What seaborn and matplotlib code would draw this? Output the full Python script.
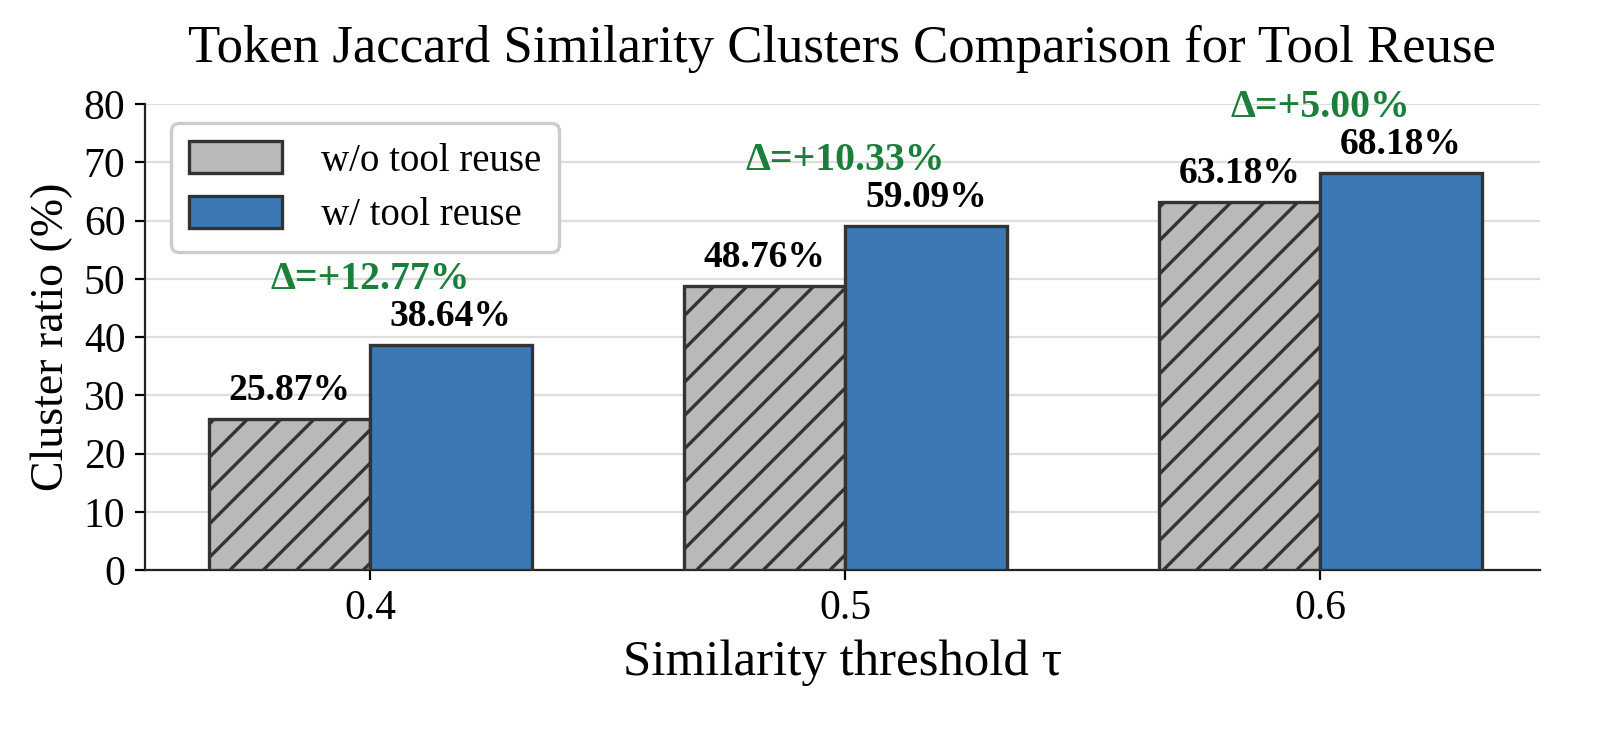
import matplotlib
matplotlib.use("Agg")
import matplotlib.pyplot as plt
import seaborn as sns
import pandas as pd

thresholds = ["0.4", "0.5", "0.6"]
series_names = ["w/o tool reuse", "w/ tool reuse"]
without_reuse = [25.87, 48.76, 63.18]
with_reuse = [38.64, 59.09, 68.18]
deltas = [12.77, 10.33, 5.00]

sns.set_style("ticks")
plt.rcParams['font.family'] = ['Liberation Serif', 'DejaVu Serif']
plt.rcParams['hatch.color'] = '#333333'
plt.rcParams['hatch.linewidth'] = 1.2
for k in ['text.color', 'axes.labelcolor', 'xtick.color', 'ytick.color']:
    plt.rcParams[k] = 'black'
plt.rcParams['axes.edgecolor'] = '#222222'

df = pd.DataFrame({
    "threshold": thresholds * 2,
    "series": [series_names[0]] * 3 + [series_names[1]] * 3,
    "value": without_reuse + with_reuse,
})

fig, ax = plt.subplots(figsize=(8.05, 3.65), dpi=200)
fig.subplots_adjust(left=0.09, right=0.9565, top=0.8575, bottom=0.219)

palette = {series_names[0]: "#b9b9b9", series_names[1]: "#3b78b5"}
sns.barplot(data=df, x="threshold", y="value", hue="series", order=thresholds,
            hue_order=series_names, palette=palette, width=0.68, gap=0,
            edgecolor="#333333", linewidth=1.2, saturation=1, ax=ax, zorder=3)

for bar in ax.containers[0]:
    bar.set_hatch("//")

for c in ax.containers:
    for bar in c:
        h = bar.get_height()
        ax.annotate(f"{h:.2f}%", (bar.get_x() + bar.get_width() / 2, h),
                    xytext=(0, 4), textcoords="offset points", ha="center", va="bottom",
                    fontsize=13.5, fontweight="bold", color="black")

for i, d in enumerate(deltas):
    top = max(without_reuse[i], with_reuse[i])
    ax.annotate(f"Δ=+{d:.2f}%", (i, top), xytext=(0, 17), textcoords="offset points",
                ha="center", va="bottom", fontsize=14.3, fontweight="bold", color="#1b7f3b")

ax.set_ylim(0, 80)
ax.set_xlim(-0.474, 2.463)
ax.set_yticks(range(0, 81, 10))
ax.yaxis.grid(True, color="#dddddd", linewidth=0.8, zorder=0)
ax.set_axisbelow(True)
ax.tick_params(axis="both", labelsize=15)
ax.set_xlabel("Similarity threshold τ", fontsize=18.3)
ax.set_ylabel("Cluster ratio (%)", fontsize=16.5)
ax.set_title("Token Jaccard Similarity Clusters Comparison for Tool Reuse", fontsize=19, pad=15)
sns.despine(ax=ax)

leg = ax.legend(loc="upper left", fontsize=14, handlelength=2.4, handleheight=0.9,
                frameon=True, fancybox=True, edgecolor="#cccccc", framealpha=1,
                bbox_to_anchor=(0.005, 1.0), borderpad=0.45, labelspacing=0.42,
                handletextpad=1.0)
leg.get_frame().set_linewidth(1.2)

fig.savefig("out.png", dpi=200)
